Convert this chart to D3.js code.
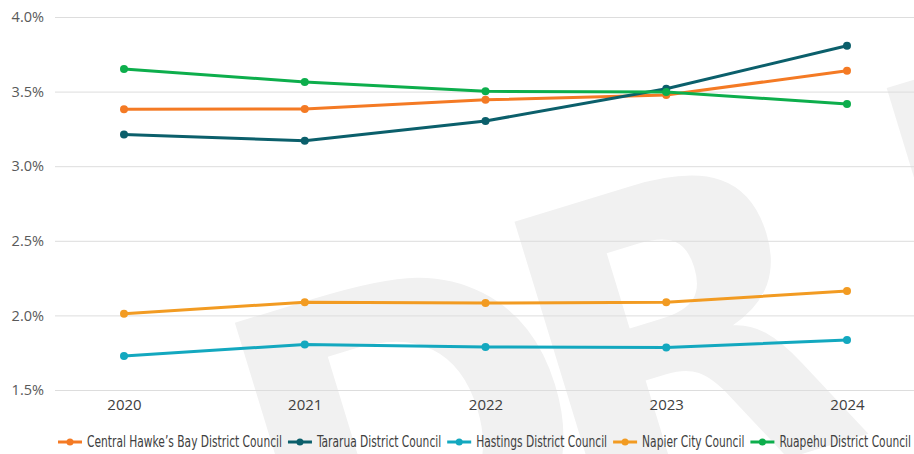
<!DOCTYPE html>
<html>
<head>
<meta charset="utf-8">
<script src="https://cdn.jsdelivr.net/npm/d3@7"></script>
<style>
    body { margin: 0; background: #fff; }
    svg { display: block; }
    .y-axis text { font-family: "Open Sans", sans-serif; font-size: 14.5px; fill: #595959; }
    .x-axis text { font-family: "Open Sans", sans-serif; font-size: 15px; fill: #404040; }
    .legend text { font-family: "Liberation Sans Narrow", "DejaVu Sans Condensed", sans-serif; font-size: 15px; fill: #404040; }
</style>
</head>
<body>
<div id="chart"></div>
<script>
const years = ['2020', '2021', '2022', '2023', '2024'];
const seriesNames = [
    "Central Hawke\u2019s Bay District Council",
    'Tararua District Council',
    'Hastings District Council',
    'Napier City Council',
    'Ruapehu District Council'
];
const seriesColors = ['#f47a24', '#0b5f6b', '#13a8bf', '#f29b22', '#0dae4c'];
const centralHawkesBay = [3.381, 3.384, 3.445, 3.477, 3.640];
const tararua = [3.212, 3.171, 3.303, 3.519, 3.807];
const hastings = [1.728, 1.805, 1.789, 1.785, 1.835];
const napier = [2.011, 2.088, 2.083, 2.088, 2.164];
const ruapehu = [3.651, 3.565, 3.502, 3.498, 3.417];
const yTicks = [1.5, 2.0, 2.5, 3.0, 3.5, 4.0];
const watermarkLetters = ['D', 'R', 'I'];

const width = 914, height = 454;
const margin = { top: 17, right: 0, bottom: 64, left: 55 };

const allSeries = [centralHawkesBay, tararua, hastings, napier, ruapehu].map((vals, i) => ({
    name: seriesNames[i],
    color: seriesColors[i],
    values: vals.map((v, j) => ({ year: years[j], value: v }))
}));

const svg = d3.select('#chart').append('svg')
    .attr('width', width)
    .attr('height', height);

// faint watermark behind the plot
const wm = svg.append('g')
    .attr('transform', 'translate(514,222) rotate(-17)')
    .attr('font-family', 'DejaVu Sans, sans-serif')
    .attr('font-weight', 'bold')
    .attr('font-size', 420)
    .attr('fill', '#f1f1f1');
const wmOffsets = [[-297, 15], [0, 0], [395, -19]];
wm.selectAll('text')
    .data(watermarkLetters)
    .join('text')
    .attr('x', (d, i) => wmOffsets[i][0] - 38)
    .attr('y', (d, i) => wmOffsets[i][1] + 306)
    .text(d => d);

const x = d3.scalePoint()
    .domain(years)
    .range([124, 847]);

const y = d3.scaleLinear()
    .domain([1.5, 4.0])
    .range([height - margin.bottom, margin.top]);

const yAxis = d3.axisLeft(y)
    .tickValues(yTicks)
    .tickSize(-(width - margin.left - margin.right))
    .tickPadding(11)
    .tickFormat(d => d.toFixed(1) + '%');

svg.append('g')
    .attr('class', 'y-axis')
    .attr('transform', `translate(${margin.left},0)`)
    .call(yAxis)
    .call(g => g.select('.domain').remove())
    .call(g => g.selectAll('.tick line').attr('stroke', '#dddddd').attr('stroke-width', 1));

const xAxis = d3.axisBottom(x)
    .tickSize(0)
    .tickPadding(9);

svg.append('g')
    .attr('class', 'x-axis')
    .attr('transform', `translate(0,${height - margin.bottom})`)
    .call(xAxis)
    .call(g => g.select('.domain').remove());

const line = d3.line()
    .x(d => x(d.year))
    .y(d => y(d.value));

const seriesG = svg.append('g').selectAll('g')
    .data(allSeries)
    .join('g');

seriesG.append('path')
    .attr('d', d => line(d.values))
    .attr('fill', 'none')
    .attr('stroke', d => d.color)
    .attr('stroke-width', 3)
    .attr('stroke-linejoin', 'round');

seriesG.selectAll('circle')
    .data(d => d.values.map(v => ({ ...v, color: d.color })))
    .join('circle')
    .attr('cx', d => x(d.year))
    .attr('cy', d => y(d.value))
    .attr('r', 4)
    .attr('fill', d => d.color);

// legend, laid out in one row and fitted to the width
const legend = svg.append('g').attr('class', 'legend');
const items = legend.selectAll('g')
    .data(allSeries)
    .join('g');

items.append('line')
    .attr('x1', 0).attr('x2', 24)
    .attr('y1', 0).attr('y2', 0)
    .attr('stroke', d => d.color)
    .attr('stroke-width', 3);
items.append('circle')
    .attr('cx', 12).attr('cy', 0).attr('r', 3.5)
    .attr('fill', d => d.color);
items.append('text')
    .attr('x', 29)
    .attr('y', 5)
    .text(d => d.name);

const legendLeft = 58, legendRight = 911, gap = 6;
let natural = [];
items.select('text').each(function () { natural.push(this.getComputedTextLength()); });
const fixed = allSeries.length * 29 + (allSeries.length - 1) * gap;
const k = (legendRight - legendLeft - fixed) / d3.sum(natural);
let cursor = legendLeft;
items.each(function (d, i) {
    const w = natural[i] * k;
    d3.select(this)
        .attr('transform', `translate(${cursor},442)`)
        .select('text')
        .attr('textLength', w)
        .attr('lengthAdjust', 'spacingAndGlyphs');
    cursor += 29 + w + gap;
});
</script>
</body>
</html>
